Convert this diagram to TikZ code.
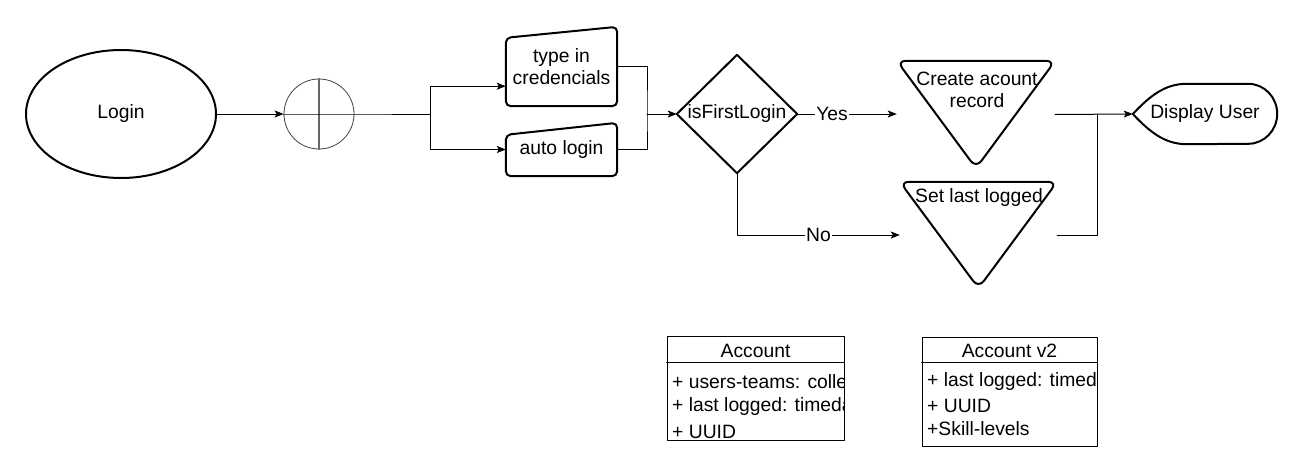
\documentclass[tikz,border=0pt]{standalone}
\usepackage{fontspec}
\setmainfont{Liberation Sans}
\usetikzlibrary{arrows.meta,shapes.geometric,calc}

\begin{document}
\begin{tikzpicture}[line cap=round,line join=round,>={Stealth[length=9pt,width=7pt,inset=2pt]},x=1pt,y=-1pt,
  font=\fontsize{19.3}{22}\selectfont,
  shapeline/.style={line width=2pt},
  conn/.style={line width=1pt},
  box/.style={rectangle,inner sep=0pt,align=center},
  lbl/.style={fill=white,inner sep=1pt},
  row/.style={anchor=west,inner sep=5pt}]
\useasboundingbox (0,0) rectangle (1302,474);
\node [ellipse,draw,line width=2pt,minimum width=190,minimum height=128] (login) at (121,114) {Login};
\node [circle,draw=black!75,line width=0.8pt,minimum size=70,inner sep=0pt] (orgate) at (319,114) {};
\draw [black!60,line width=1.2pt] (orgate.north) -- (orgate.south);
\node [box,minimum width=111,minimum height=79] (typein) at (561.5,66.5) {type in\\credencials};
\draw [shapeline,rounded corners=5pt] (typein.south) -- (typein.south west) -- ($(typein.north west)+(0,11)$) -- (typein.north east) -- (typein.south east) -- cycle;
\node [box,minimum width=111,minimum height=53] (autologin) at (561.5,149.5) {auto login};
\draw [shapeline,rounded corners=5pt] (autologin.south) -- (autologin.south west) -- ($(autologin.north west)+(0,12)$) -- (autologin.north east) -- (autologin.south east) -- cycle;
\node [box,minimum width=120,minimum height=118] (first) at (737,114) {isFirstLogin};
\draw [shapeline] (first.west) -- (first.north) -- (first.east) -- (first.south) -- cycle;
\node [box,minimum width=158,minimum height=107] (create) at (976,114.5) {};
\draw [shapeline,rounded corners=9pt] (create.north) -- (create.north east) -- (create.south) -- (create.north west) -- cycle;
\node [align=center] (createtxt) at (977,90) {Create acount\\record};
\node [box,minimum width=157,minimum height=106] (setlast) at (978.5,235) {};
\draw [shapeline,rounded corners=9pt] (setlast.north) -- (setlast.north east) -- (setlast.south) -- (setlast.north west) -- cycle;
\node (setlasttxt) at (979,198) {Set last logged};
\node [box,minimum width=144,minimum height=60] (disp) at (1205,114) {Display User};
\draw [shapeline] (disp.west) .. controls ($(disp.west)+(17,-18)$) and ($(disp.north west)+(32,0)$) .. ($(disp.north west)+(54,0)$) -- ($(disp.north east)+(-29,0)$) arc [start angle=-90,end angle=90,x radius=29,y radius=30] -- ($(disp.south west)+(54,0)$) .. controls ($(disp.south west)+(32,0)$) and ($(disp.west)+(17,18)$) .. (disp.west);
\draw [conn,->] (login.east) -- (orgate.west);
\draw [conn] (orgate.west) -- (orgate.east) -- (430,114) coordinate (fork);
\draw [conn,->] (fork) |- ($(typein.south west)+(0,-20)$);
\draw [conn,->] (fork) |- (autologin.west);
\draw [conn] (typein.east) -| (647,114) coordinate (merge) |- (autologin.east);
\draw [conn,->] (merge) -- (first.west);
\draw [conn,->] (first.east) -- node [lbl,pos=0.35] {Yes} (first.east -| create.west);
\draw [conn,->] (first.south) |- node [lbl,pos=0.75] {No} (setlast.west);
\draw [conn] (setlast.east) -- ++(40,0) coordinate (join) -- (join |- create.east);
\draw [conn,->] (create.east) -- (disp.west);
\node [box,draw,line width=1pt,minimum width=177,minimum height=104] (acct) at (755.5,388) {};
\draw [conn] ($(acct.north west)+(0,27)$) -- ($(acct.north east)+(0,27)$);
\node (accttitle) at (755.5,351) {Account};
\begin{scope}
\clip (acct.north west) rectangle (acct.south east);
\node [row] (acctrow1) at (667,382) {+ users-teams: colle};
\node [row] (acctrow2) at (667,407) {+ last logged: timeda};
\node [row] (acctrow3) at (667,432) {+ UUID};
\end{scope}
\node [box,draw,line width=1pt,minimum width=175,minimum height=109] (accttwo) at (1009.5,391.5) {};
\draw [conn] ($(accttwo.north west)+(0,26)$) -- ($(accttwo.north east)+(0,26)$);
\node (accttwotitle) at (1009.5,351) {Account v2};
\begin{scope}
\clip (accttwo.north west) rectangle (accttwo.south east);
\node [row] (accttworow1) at (922,382) {+ last logged: timeda};
\node [row] (accttworow2) at (922,406) {+ UUID};
\node [row] (accttworow3) at (922,429) {+Skill-levels};
\end{scope}
\end{tikzpicture}
\end{document}
